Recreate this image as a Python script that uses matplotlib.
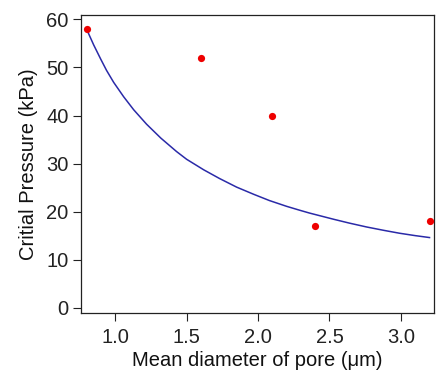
import matplotlib
matplotlib.use("Agg")
import matplotlib.pyplot as plt

plt.rcParams["font.family"] = ["Liberation Sans", "DejaVu Sans"]

# Measured points
pore_diameter = [0.8, 1.6, 2.1, 2.4, 3.2]
critical_pressure = [58, 52, 40, 17, 18]

# Fitted curve
fit_x = [0.80, 0.85, 0.90, 0.94, 0.99, 1.06, 1.13, 1.22, 1.32, 1.43, 1.50, 1.62,
         1.73, 1.85, 1.97, 2.08, 2.20, 2.29, 2.36, 2.53, 2.64, 2.76, 2.88, 2.99,
         3.10, 3.20]
fit_y = [58.0, 54.7, 51.7, 49.4, 46.9, 43.9, 41.2, 38.2, 35.3, 32.5, 30.9, 28.7,
         26.9, 25.1, 23.6, 22.3, 21.1, 20.3, 19.7, 18.4, 17.6, 16.8, 16.1, 15.5,
         15.0, 14.6]

CURVE_BLUE = "#2a2aa8"
POINT_RED = "#ee0000"

fig = plt.figure(figsize=(4.36, 3.78), dpi=100)
ax = fig.add_axes([0.186, 0.172, 0.809, 0.788])

ax.plot(fit_x, fit_y, color=CURVE_BLUE, lw=1.1, zorder=2)
ax.plot(pore_diameter, critical_pressure, "o", color=POINT_RED, ms=5.2, mec="none", zorder=3, clip_on=False)

ax.set_xlim(0.762, 3.23)
ax.set_ylim(-1.1, 60.9)
ax.set_xticks([1.0, 1.5, 2.0, 2.5, 3.0])
ax.set_yticks([0, 10, 20, 30, 40, 50, 60])

ax.tick_params(direction="out", length=6, width=0.8, labelsize=14.5, pad=3, colors="#222222")
ax.tick_params(axis="x", pad=5)
ax.tick_params(top=False, right=False)
for side in ax.spines.values():
    side.set_linewidth(0.9)
    side.set_color("#222222")

ax.set_xlabel("Mean diameter of pore (\u03bcm)", fontsize=14.5, labelpad=3, color="#111111")
ax.set_ylabel("Critial Pressure (kPa)", fontsize=14.5, labelpad=6, color="#111111")

fig.savefig("out.png", dpi=100)
